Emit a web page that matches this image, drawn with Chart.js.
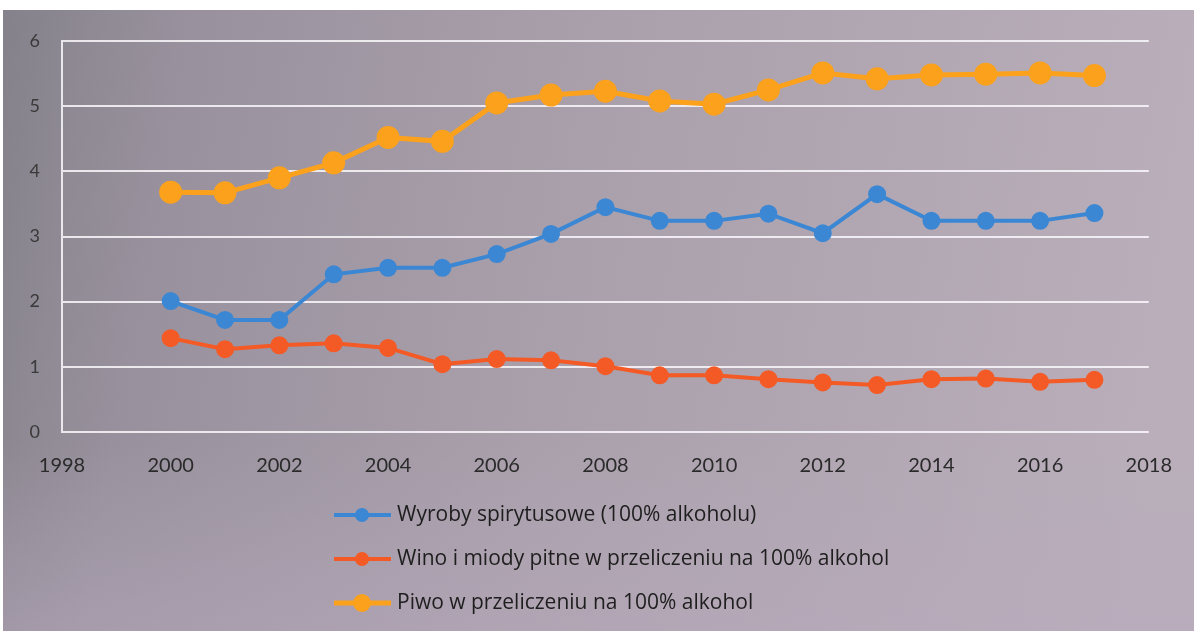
<!DOCTYPE html>
<html>
<head>
<meta charset="utf-8">
<script src="https://cdn.jsdelivr.net/npm/chart.js@4"></script>
<style>
  html, body { margin: 0; padding: 0; background: #fff; }
  #wrap { width: 1194px; height: 631px; position: relative; }
</style>
</head>
<body>
<div id="wrap"><canvas id="c" width="1194" height="631"></canvas></div>
<script>
const years = [2000, 2001, 2002, 2003, 2004, 2005, 2006, 2007, 2008, 2009, 2010, 2011, 2012, 2013, 2014, 2015, 2016, 2017];
const spirits = [2.01, 1.72, 1.72, 2.42, 2.52, 2.52, 2.73, 3.04, 3.45, 3.24, 3.24, 3.35, 3.05, 3.65, 3.24, 3.24, 3.24, 3.36];
const wine = [1.44, 1.27, 1.33, 1.36, 1.29, 1.04, 1.12, 1.10, 1.01, 0.87, 0.87, 0.81, 0.76, 0.72, 0.81, 0.82, 0.77, 0.80];
const beer = [3.68, 3.67, 3.90, 4.13, 4.52, 4.46, 5.05, 5.17, 5.23, 5.08, 5.03, 5.25, 5.51, 5.42, 5.48, 5.49, 5.51, 5.47];
const seriesNames = ['Wyroby spirytusowe (100% alkoholu)', 'Wino i miody pitne w przeliczeniu na 100% alkohol', 'Piwo w przeliczeniu na 100% alkohol'];
const xTicks = [1998, 2000, 2002, 2004, 2006, 2008, 2010, 2012, 2014, 2016, 2018];
const yTicks = [0, 1, 2, 3, 4, 5, 6];

const toPts = arr => years.map((y, i) => ({ x: y, y: arr[i] }));

const bgPlugin = {
  id: 'bg',
  beforeDraw(chart) {
    const ctx = chart.ctx;
    const w = chart.width, h = chart.height;
    ctx.save();
    const g = ctx.createLinearGradient(0, 0, w, h * 0.3);
    g.addColorStop(0, '#84818a');
    g.addColorStop(0.15, '#98919d');
    g.addColorStop(0.5, '#aaa0ac');
    g.addColorStop(1, '#b9aeba');
    ctx.fillStyle = g;
    ctx.fillRect(0, 0, w, h);
    const g2 = ctx.createLinearGradient(0, h * 0.7, 0, h);
    g2.addColorStop(0, 'rgba(185,170,190,0)');
    g2.addColorStop(1, 'rgba(185,170,190,0.45)');
    ctx.fillStyle = g2;
    ctx.fillRect(0, h * 0.7, w, h * 0.3);
    ctx.fillStyle = '#ffffff';
    ctx.fillRect(0, 0, w, 10);
    ctx.fillRect(0, 0, 3, h);
    ctx.restore();
  }
};

const legendPlugin = {
  id: 'customLegend',
  afterDraw(chart) {
    const ctx = chart.ctx;
    const ys = [515, 559, 603];
    ctx.save();
    chart.data.datasets.forEach((ds, i) => {
      const y = ys[i];
      ctx.strokeStyle = ds.borderColor;
      ctx.lineWidth = ds.borderWidth;
      ctx.beginPath();
      ctx.moveTo(334, y);
      ctx.lineTo(391, y);
      ctx.stroke();
      ctx.fillStyle = ds.pointBackgroundColor;
      ctx.beginPath();
      ctx.arc(362, y, ds.pointRadius, 0, Math.PI * 2);
      ctx.fill();
      ctx.fillStyle = '#1e1e1e';
      ctx.font = '21px "Open Sans"';
      ctx.textBaseline = 'middle';
      ctx.textAlign = 'left';
      ctx.fillText(ds.label, 397, y);
    });
    ctx.restore();
  }
};

new Chart(document.getElementById('c'), {
  type: 'line',
  data: {
    datasets: [
      { label: seriesNames[0], data: toPts(spirits), borderColor: '#3b87d4', pointBackgroundColor: '#3b87d4', pointBorderColor: '#3b87d4', borderWidth: 4, pointRadius: 7 },
      { label: seriesNames[1], data: toPts(wine), borderColor: '#f45a25', pointBackgroundColor: '#f45a25', pointBorderColor: '#f45a25', borderWidth: 4, pointRadius: 7 },
      { label: seriesNames[2], data: toPts(beer), borderColor: '#fca11c', pointBackgroundColor: '#fca11c', pointBorderColor: '#fca11c', borderWidth: 5, pointRadius: 9 }
    ]
  },
  options: {
    responsive: false,
    animation: false,
    devicePixelRatio: 1,
    layout: { padding: { left: 0, right: 42, top: 41, bottom: 0 } },
    plugins: { legend: { display: false }, tooltip: { enabled: false } },
    elements: { line: { tension: 0 } },
    scales: {
      x: {
        type: 'linear', min: 1998, max: 2018,
        afterBuildTicks: s => { s.ticks = xTicks.map(v => ({ value: v })); },
        afterFit: s => { s.height = 199; },
        grid: { display: false, drawTicks: false },
        border: { display: false },
        ticks: { padding: 22, color: '#2a2a2a', font: { family: 'Lato', size: 20 }, callback: v => String(v) }
      },
      y: {
        min: 0, max: 6,
        afterBuildTicks: s => { s.ticks = yTicks.map(v => ({ value: v })); },
        afterFit: s => { s.width = 62; },
        grid: { color: 'rgba(250,248,252,0.85)', lineWidth: 2, drawTicks: false },
        border: { display: true, color: 'rgba(250,248,252,0.85)', width: 2 },
        ticks: { padding: 22, color: '#3a3a3a', font: { family: 'Lato', size: 18 } }
      }
    }
  },
  plugins: [bgPlugin, legendPlugin]
});
</script>
</body>
</html>
